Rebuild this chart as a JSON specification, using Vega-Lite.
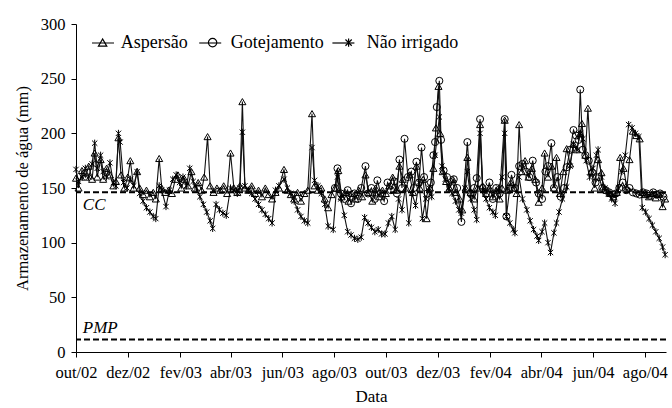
{
  "$schema": "https://vega.github.io/schema/vega-lite/v6.json",
  "width": 590,
  "height": 328,
  "autosize": "none",
  "padding": {"left": 76, "top": 24, "right": 6, "bottom": 56},
  "background": "white",
  "config": {
    "view": {"stroke": null},
    "font": "Liberation Serif",
    "axis": {
      "grid": false, "domainColor": "black", "tickColor": "black", "labelColor": "black", "titleColor": "black",
      "labelFont": "Liberation Serif", "titleFont": "Liberation Serif", "labelFontSize": 16.5, "titleFontSize": 17,
      "titleFontWeight": "normal", "tickSize": 5, "domainWidth": 1, "tickWidth": 1, "labelOverlap": false, "labelFlush": false
    },
    "legend": {
      "labelFont": "Liberation Serif", "labelFontSize": 18, "labelColor": "black", "padding": 0,
      "symbolStrokeColor": "black", "symbolStrokeWidth": 1.2, "symbolFillColor": "transparent"
    }
  },
  "datasets": {
    "refs": [
      {"label": "CC", "v": 146},
      {"label": "PMP", "v": 11.5}
    ],
    "main": [
      {"d": "2002-10-01", "s": "Aspersão", "v": 159},
      {"d": "2002-10-04", "s": "Aspersão", "v": 150},
      {"d": "2002-10-08", "s": "Aspersão", "v": 166},
      {"d": "2002-10-12", "s": "Aspersão", "v": 160},
      {"d": "2002-10-16", "s": "Aspersão", "v": 170},
      {"d": "2002-10-20", "s": "Aspersão", "v": 158},
      {"d": "2002-10-23", "s": "Aspersão", "v": 182},
      {"d": "2002-10-26", "s": "Aspersão", "v": 160},
      {"d": "2002-10-30", "s": "Aspersão", "v": 176},
      {"d": "2002-11-02", "s": "Aspersão", "v": 158},
      {"d": "2002-11-06", "s": "Aspersão", "v": 168},
      {"d": "2002-11-10", "s": "Aspersão", "v": 162},
      {"d": "2002-11-14", "s": "Aspersão", "v": 152},
      {"d": "2002-11-17", "s": "Aspersão", "v": 156},
      {"d": "2002-11-20", "s": "Aspersão", "v": 196},
      {"d": "2002-11-23", "s": "Aspersão", "v": 162},
      {"d": "2002-11-27", "s": "Aspersão", "v": 150},
      {"d": "2002-12-01", "s": "Aspersão", "v": 160},
      {"d": "2002-12-04", "s": "Aspersão", "v": 175},
      {"d": "2002-12-08", "s": "Aspersão", "v": 150},
      {"d": "2002-12-12", "s": "Aspersão", "v": 165},
      {"d": "2002-12-15", "s": "Aspersão", "v": 150},
      {"d": "2002-12-19", "s": "Aspersão", "v": 144},
      {"d": "2002-12-23", "s": "Aspersão", "v": 148},
      {"d": "2002-12-27", "s": "Aspersão", "v": 142},
      {"d": "2002-12-31", "s": "Aspersão", "v": 146},
      {"d": "2003-01-03", "s": "Aspersão", "v": 140},
      {"d": "2003-01-07", "s": "Aspersão", "v": 177},
      {"d": "2003-01-10", "s": "Aspersão", "v": 150},
      {"d": "2003-01-14", "s": "Aspersão", "v": 146},
      {"d": "2003-01-18", "s": "Aspersão", "v": 148},
      {"d": "2003-01-22", "s": "Aspersão", "v": 145},
      {"d": "2003-01-26", "s": "Aspersão", "v": 158},
      {"d": "2003-01-29", "s": "Aspersão", "v": 162},
      {"d": "2003-02-02", "s": "Aspersão", "v": 150},
      {"d": "2003-02-06", "s": "Aspersão", "v": 158},
      {"d": "2003-02-10", "s": "Aspersão", "v": 152},
      {"d": "2003-02-14", "s": "Aspersão", "v": 165},
      {"d": "2003-02-18", "s": "Aspersão", "v": 150},
      {"d": "2003-02-22", "s": "Aspersão", "v": 155},
      {"d": "2003-02-26", "s": "Aspersão", "v": 148},
      {"d": "2003-03-01", "s": "Aspersão", "v": 160},
      {"d": "2003-03-05", "s": "Aspersão", "v": 197},
      {"d": "2003-03-08", "s": "Aspersão", "v": 152},
      {"d": "2003-03-12", "s": "Aspersão", "v": 146},
      {"d": "2003-03-16", "s": "Aspersão", "v": 150},
      {"d": "2003-03-20", "s": "Aspersão", "v": 148},
      {"d": "2003-03-24", "s": "Aspersão", "v": 152},
      {"d": "2003-03-28", "s": "Aspersão", "v": 145},
      {"d": "2003-04-01", "s": "Aspersão", "v": 182},
      {"d": "2003-04-05", "s": "Aspersão", "v": 150},
      {"d": "2003-04-09", "s": "Aspersão", "v": 146},
      {"d": "2003-04-12", "s": "Aspersão", "v": 152},
      {"d": "2003-04-15", "s": "Aspersão", "v": 229},
      {"d": "2003-04-18", "s": "Aspersão", "v": 150},
      {"d": "2003-04-22", "s": "Aspersão", "v": 148},
      {"d": "2003-04-26", "s": "Aspersão", "v": 152},
      {"d": "2003-04-30", "s": "Aspersão", "v": 145},
      {"d": "2003-05-04", "s": "Aspersão", "v": 148},
      {"d": "2003-05-08", "s": "Aspersão", "v": 142},
      {"d": "2003-05-12", "s": "Aspersão", "v": 150},
      {"d": "2003-05-16", "s": "Aspersão", "v": 144},
      {"d": "2003-05-20", "s": "Aspersão", "v": 140},
      {"d": "2003-05-24", "s": "Aspersão", "v": 146},
      {"d": "2003-05-28", "s": "Aspersão", "v": 150},
      {"d": "2003-06-03", "s": "Aspersão", "v": 167},
      {"d": "2003-06-07", "s": "Aspersão", "v": 148},
      {"d": "2003-06-11", "s": "Aspersão", "v": 144},
      {"d": "2003-06-15", "s": "Aspersão", "v": 140},
      {"d": "2003-06-19", "s": "Aspersão", "v": 146},
      {"d": "2003-06-23", "s": "Aspersão", "v": 138},
      {"d": "2003-06-27", "s": "Aspersão", "v": 145},
      {"d": "2003-07-01", "s": "Aspersão", "v": 148},
      {"d": "2003-07-06", "s": "Aspersão", "v": 218},
      {"d": "2003-07-09", "s": "Aspersão", "v": 152},
      {"d": "2003-07-13", "s": "Aspersão", "v": 148},
      {"d": "2003-07-17", "s": "Aspersão", "v": 150},
      {"d": "2003-07-21", "s": "Aspersão", "v": 140},
      {"d": "2003-07-25", "s": "Aspersão", "v": 132},
      {"d": "2003-07-29", "s": "Aspersão", "v": 144},
      {"d": "2003-08-02", "s": "Aspersão", "v": 150},
      {"d": "2003-08-06", "s": "Aspersão", "v": 166},
      {"d": "2003-08-10", "s": "Aspersão", "v": 142},
      {"d": "2003-08-14", "s": "Aspersão", "v": 146},
      {"d": "2003-08-18", "s": "Aspersão", "v": 138},
      {"d": "2003-08-22", "s": "Aspersão", "v": 145},
      {"d": "2003-08-26", "s": "Aspersão", "v": 140},
      {"d": "2003-08-30", "s": "Aspersão", "v": 148},
      {"d": "2003-09-03", "s": "Aspersão", "v": 142},
      {"d": "2003-09-07", "s": "Aspersão", "v": 162},
      {"d": "2003-09-11", "s": "Aspersão", "v": 146},
      {"d": "2003-09-15", "s": "Aspersão", "v": 138},
      {"d": "2003-09-19", "s": "Aspersão", "v": 150},
      {"d": "2003-09-23", "s": "Aspersão", "v": 142},
      {"d": "2003-09-27", "s": "Aspersão", "v": 148},
      {"d": "2003-10-01", "s": "Aspersão", "v": 145},
      {"d": "2003-10-05", "s": "Aspersão", "v": 152},
      {"d": "2003-10-09", "s": "Aspersão", "v": 160},
      {"d": "2003-10-13", "s": "Aspersão", "v": 148},
      {"d": "2003-10-17", "s": "Aspersão", "v": 170},
      {"d": "2003-10-21", "s": "Aspersão", "v": 158},
      {"d": "2003-10-25", "s": "Aspersão", "v": 150},
      {"d": "2003-10-29", "s": "Aspersão", "v": 162},
      {"d": "2003-11-02", "s": "Aspersão", "v": 146},
      {"d": "2003-11-06", "s": "Aspersão", "v": 170},
      {"d": "2003-11-10", "s": "Aspersão", "v": 150},
      {"d": "2003-11-14", "s": "Aspersão", "v": 158},
      {"d": "2003-11-18", "s": "Aspersão", "v": 122},
      {"d": "2003-11-22", "s": "Aspersão", "v": 150},
      {"d": "2003-11-26", "s": "Aspersão", "v": 168},
      {"d": "2003-11-29", "s": "Aspersão", "v": 205},
      {"d": "2003-12-02", "s": "Aspersão", "v": 243},
      {"d": "2003-12-04", "s": "Aspersão", "v": 200},
      {"d": "2003-12-07", "s": "Aspersão", "v": 165},
      {"d": "2003-12-11", "s": "Aspersão", "v": 156},
      {"d": "2003-12-15", "s": "Aspersão", "v": 150},
      {"d": "2003-12-19", "s": "Aspersão", "v": 158},
      {"d": "2003-12-23", "s": "Aspersão", "v": 146},
      {"d": "2003-12-27", "s": "Aspersão", "v": 140},
      {"d": "2003-12-30", "s": "Aspersão", "v": 130},
      {"d": "2004-01-03", "s": "Aspersão", "v": 150},
      {"d": "2004-01-05", "s": "Aspersão", "v": 178},
      {"d": "2004-01-09", "s": "Aspersão", "v": 146},
      {"d": "2004-01-13", "s": "Aspersão", "v": 140},
      {"d": "2004-01-17", "s": "Aspersão", "v": 150},
      {"d": "2004-01-20", "s": "Aspersão", "v": 208},
      {"d": "2004-01-23", "s": "Aspersão", "v": 152},
      {"d": "2004-01-27", "s": "Aspersão", "v": 145},
      {"d": "2004-01-31", "s": "Aspersão", "v": 150},
      {"d": "2004-02-04", "s": "Aspersão", "v": 142},
      {"d": "2004-02-08", "s": "Aspersão", "v": 148},
      {"d": "2004-02-12", "s": "Aspersão", "v": 140},
      {"d": "2004-02-15", "s": "Aspersão", "v": 150},
      {"d": "2004-02-18", "s": "Aspersão", "v": 212},
      {"d": "2004-02-21", "s": "Aspersão", "v": 148},
      {"d": "2004-02-25", "s": "Aspersão", "v": 155},
      {"d": "2004-02-29", "s": "Aspersão", "v": 150},
      {"d": "2004-03-03", "s": "Aspersão", "v": 145},
      {"d": "2004-03-06", "s": "Aspersão", "v": 208},
      {"d": "2004-03-09", "s": "Aspersão", "v": 165},
      {"d": "2004-03-13", "s": "Aspersão", "v": 175},
      {"d": "2004-03-17", "s": "Aspersão", "v": 160},
      {"d": "2004-03-21", "s": "Aspersão", "v": 168},
      {"d": "2004-03-25", "s": "Aspersão", "v": 158},
      {"d": "2004-03-29", "s": "Aspersão", "v": 137},
      {"d": "2004-04-02", "s": "Aspersão", "v": 150},
      {"d": "2004-04-05", "s": "Aspersão", "v": 182},
      {"d": "2004-04-09", "s": "Aspersão", "v": 160},
      {"d": "2004-04-13", "s": "Aspersão", "v": 170},
      {"d": "2004-04-16", "s": "Aspersão", "v": 150},
      {"d": "2004-04-19", "s": "Aspersão", "v": 178},
      {"d": "2004-04-23", "s": "Aspersão", "v": 145},
      {"d": "2004-04-27", "s": "Aspersão", "v": 165},
      {"d": "2004-05-01", "s": "Aspersão", "v": 186},
      {"d": "2004-05-05", "s": "Aspersão", "v": 172},
      {"d": "2004-05-09", "s": "Aspersão", "v": 190},
      {"d": "2004-05-13", "s": "Aspersão", "v": 185},
      {"d": "2004-05-17", "s": "Aspersão", "v": 200},
      {"d": "2004-05-19", "s": "Aspersão", "v": 209},
      {"d": "2004-05-23", "s": "Aspersão", "v": 180},
      {"d": "2004-05-26", "s": "Aspersão", "v": 223},
      {"d": "2004-05-30", "s": "Aspersão", "v": 165},
      {"d": "2004-06-03", "s": "Aspersão", "v": 150},
      {"d": "2004-06-07", "s": "Aspersão", "v": 176},
      {"d": "2004-06-11", "s": "Aspersão", "v": 164},
      {"d": "2004-06-13", "s": "Aspersão", "v": 151},
      {"d": "2004-06-17", "s": "Aspersão", "v": 148},
      {"d": "2004-06-21", "s": "Aspersão", "v": 145},
      {"d": "2004-06-25", "s": "Aspersão", "v": 142},
      {"d": "2004-06-29", "s": "Aspersão", "v": 146},
      {"d": "2004-07-03", "s": "Aspersão", "v": 178},
      {"d": "2004-07-07", "s": "Aspersão", "v": 168},
      {"d": "2004-07-11", "s": "Aspersão", "v": 150},
      {"d": "2004-07-14", "s": "Aspersão", "v": 176},
      {"d": "2004-07-18", "s": "Aspersão", "v": 202},
      {"d": "2004-07-22", "s": "Aspersão", "v": 198},
      {"d": "2004-07-26", "s": "Aspersão", "v": 195},
      {"d": "2004-07-29", "s": "Aspersão", "v": 146},
      {"d": "2004-08-02", "s": "Aspersão", "v": 144},
      {"d": "2004-08-06", "s": "Aspersão", "v": 142},
      {"d": "2004-08-10", "s": "Aspersão", "v": 145},
      {"d": "2004-08-14", "s": "Aspersão", "v": 141},
      {"d": "2004-08-18", "s": "Aspersão", "v": 144},
      {"d": "2004-08-22", "s": "Aspersão", "v": 133},
      {"d": "2004-08-25", "s": "Aspersão", "v": 140},

      {"d": "2003-08-02", "s": "Gotejamento", "v": 150},
      {"d": "2003-08-05", "s": "Gotejamento", "v": 168},
      {"d": "2003-08-09", "s": "Gotejamento", "v": 145},
      {"d": "2003-08-13", "s": "Gotejamento", "v": 140},
      {"d": "2003-08-17", "s": "Gotejamento", "v": 148},
      {"d": "2003-08-21", "s": "Gotejamento", "v": 136},
      {"d": "2003-08-25", "s": "Gotejamento", "v": 145},
      {"d": "2003-08-29", "s": "Gotejamento", "v": 140},
      {"d": "2003-09-02", "s": "Gotejamento", "v": 150},
      {"d": "2003-09-07", "s": "Gotejamento", "v": 170},
      {"d": "2003-09-10", "s": "Gotejamento", "v": 145},
      {"d": "2003-09-14", "s": "Gotejamento", "v": 150},
      {"d": "2003-09-18", "s": "Gotejamento", "v": 140},
      {"d": "2003-09-21", "s": "Gotejamento", "v": 157},
      {"d": "2003-09-25", "s": "Gotejamento", "v": 145},
      {"d": "2003-09-29", "s": "Gotejamento", "v": 138},
      {"d": "2003-10-03", "s": "Gotejamento", "v": 155},
      {"d": "2003-10-07", "s": "Gotejamento", "v": 148},
      {"d": "2003-10-11", "s": "Gotejamento", "v": 156},
      {"d": "2003-10-14", "s": "Gotejamento", "v": 145},
      {"d": "2003-10-17", "s": "Gotejamento", "v": 176},
      {"d": "2003-10-20", "s": "Gotejamento", "v": 150},
      {"d": "2003-10-23", "s": "Gotejamento", "v": 195},
      {"d": "2003-10-27", "s": "Gotejamento", "v": 160},
      {"d": "2003-10-31", "s": "Gotejamento", "v": 165},
      {"d": "2003-11-03", "s": "Gotejamento", "v": 150},
      {"d": "2003-11-06", "s": "Gotejamento", "v": 174},
      {"d": "2003-11-09", "s": "Gotejamento", "v": 155},
      {"d": "2003-11-12", "s": "Gotejamento", "v": 187},
      {"d": "2003-11-15", "s": "Gotejamento", "v": 160},
      {"d": "2003-11-19", "s": "Gotejamento", "v": 145},
      {"d": "2003-11-23", "s": "Gotejamento", "v": 155},
      {"d": "2003-11-26", "s": "Gotejamento", "v": 180},
      {"d": "2003-11-28", "s": "Gotejamento", "v": 192},
      {"d": "2003-11-30", "s": "Gotejamento", "v": 224},
      {"d": "2003-12-03", "s": "Gotejamento", "v": 248},
      {"d": "2003-12-05", "s": "Gotejamento", "v": 194},
      {"d": "2003-12-08", "s": "Gotejamento", "v": 166},
      {"d": "2003-12-12", "s": "Gotejamento", "v": 160},
      {"d": "2003-12-16", "s": "Gotejamento", "v": 151},
      {"d": "2003-12-20", "s": "Gotejamento", "v": 158},
      {"d": "2003-12-24", "s": "Gotejamento", "v": 150},
      {"d": "2003-12-29", "s": "Gotejamento", "v": 119},
      {"d": "2004-01-05", "s": "Gotejamento", "v": 192},
      {"d": "2004-01-09", "s": "Gotejamento", "v": 145},
      {"d": "2004-01-13", "s": "Gotejamento", "v": 150},
      {"d": "2004-01-16", "s": "Gotejamento", "v": 159},
      {"d": "2004-01-20", "s": "Gotejamento", "v": 213},
      {"d": "2004-01-23", "s": "Gotejamento", "v": 150},
      {"d": "2004-01-27", "s": "Gotejamento", "v": 145},
      {"d": "2004-01-31", "s": "Gotejamento", "v": 155},
      {"d": "2004-02-04", "s": "Gotejamento", "v": 140},
      {"d": "2004-02-08", "s": "Gotejamento", "v": 150},
      {"d": "2004-02-12", "s": "Gotejamento", "v": 145},
      {"d": "2004-02-18", "s": "Gotejamento", "v": 213},
      {"d": "2004-02-20", "s": "Gotejamento", "v": 124},
      {"d": "2004-02-24", "s": "Gotejamento", "v": 150},
      {"d": "2004-02-26", "s": "Gotejamento", "v": 162},
      {"d": "2004-03-01", "s": "Gotejamento", "v": 150},
      {"d": "2004-03-06", "s": "Gotejamento", "v": 170},
      {"d": "2004-03-10", "s": "Gotejamento", "v": 172},
      {"d": "2004-03-14", "s": "Gotejamento", "v": 165},
      {"d": "2004-03-18", "s": "Gotejamento", "v": 160},
      {"d": "2004-03-22", "s": "Gotejamento", "v": 175},
      {"d": "2004-03-26", "s": "Gotejamento", "v": 155},
      {"d": "2004-03-29", "s": "Gotejamento", "v": 145},
      {"d": "2004-04-02", "s": "Gotejamento", "v": 140},
      {"d": "2004-04-06", "s": "Gotejamento", "v": 165},
      {"d": "2004-04-09", "s": "Gotejamento", "v": 170},
      {"d": "2004-04-13", "s": "Gotejamento", "v": 191},
      {"d": "2004-04-16", "s": "Gotejamento", "v": 150},
      {"d": "2004-04-20", "s": "Gotejamento", "v": 160},
      {"d": "2004-04-24", "s": "Gotejamento", "v": 142},
      {"d": "2004-04-28", "s": "Gotejamento", "v": 150},
      {"d": "2004-05-01", "s": "Gotejamento", "v": 169},
      {"d": "2004-05-05", "s": "Gotejamento", "v": 185},
      {"d": "2004-05-09", "s": "Gotejamento", "v": 203},
      {"d": "2004-05-12", "s": "Gotejamento", "v": 198},
      {"d": "2004-05-15", "s": "Gotejamento", "v": 194},
      {"d": "2004-05-17", "s": "Gotejamento", "v": 240},
      {"d": "2004-05-20", "s": "Gotejamento", "v": 185},
      {"d": "2004-05-23", "s": "Gotejamento", "v": 180},
      {"d": "2004-05-27", "s": "Gotejamento", "v": 175},
      {"d": "2004-05-31", "s": "Gotejamento", "v": 164},
      {"d": "2004-06-04", "s": "Gotejamento", "v": 155},
      {"d": "2004-06-08", "s": "Gotejamento", "v": 160},
      {"d": "2004-06-12", "s": "Gotejamento", "v": 150},
      {"d": "2004-06-16", "s": "Gotejamento", "v": 148},
      {"d": "2004-06-20", "s": "Gotejamento", "v": 146},
      {"d": "2004-06-24", "s": "Gotejamento", "v": 144},
      {"d": "2004-06-28", "s": "Gotejamento", "v": 145},
      {"d": "2004-07-02", "s": "Gotejamento", "v": 150},
      {"d": "2004-07-06", "s": "Gotejamento", "v": 155},
      {"d": "2004-07-10", "s": "Gotejamento", "v": 148},
      {"d": "2004-07-14", "s": "Gotejamento", "v": 150},
      {"d": "2004-07-18", "s": "Gotejamento", "v": 146},
      {"d": "2004-07-22", "s": "Gotejamento", "v": 145},
      {"d": "2004-07-26", "s": "Gotejamento", "v": 144},
      {"d": "2004-07-30", "s": "Gotejamento", "v": 146},
      {"d": "2004-08-03", "s": "Gotejamento", "v": 145},
      {"d": "2004-08-07", "s": "Gotejamento", "v": 143},
      {"d": "2004-08-11", "s": "Gotejamento", "v": 146},
      {"d": "2004-08-15", "s": "Gotejamento", "v": 144},
      {"d": "2004-08-19", "s": "Gotejamento", "v": 145},
      {"d": "2004-08-23", "s": "Gotejamento", "v": 142},

      {"d": "2002-10-01", "s": "Não irrigado", "v": 167},
      {"d": "2002-10-04", "s": "Não irrigado", "v": 156},
      {"d": "2002-10-08", "s": "Não irrigado", "v": 160},
      {"d": "2002-10-12", "s": "Não irrigado", "v": 168},
      {"d": "2002-10-16", "s": "Não irrigado", "v": 160},
      {"d": "2002-10-20", "s": "Não irrigado", "v": 172},
      {"d": "2002-10-23", "s": "Não irrigado", "v": 191},
      {"d": "2002-10-26", "s": "Não irrigado", "v": 168},
      {"d": "2002-10-30", "s": "Não irrigado", "v": 180},
      {"d": "2002-11-02", "s": "Não irrigado", "v": 165},
      {"d": "2002-11-06", "s": "Não irrigado", "v": 160},
      {"d": "2002-11-10", "s": "Não irrigado", "v": 173},
      {"d": "2002-11-14", "s": "Não irrigado", "v": 155},
      {"d": "2002-11-17", "s": "Não irrigado", "v": 152},
      {"d": "2002-11-20", "s": "Não irrigado", "v": 200},
      {"d": "2002-11-22", "s": "Não irrigado", "v": 192},
      {"d": "2002-11-26", "s": "Não irrigado", "v": 155},
      {"d": "2002-11-30", "s": "Não irrigado", "v": 150},
      {"d": "2002-12-04", "s": "Não irrigado", "v": 158},
      {"d": "2002-12-08", "s": "Não irrigado", "v": 152},
      {"d": "2002-12-12", "s": "Não irrigado", "v": 165},
      {"d": "2002-12-15", "s": "Não irrigado", "v": 145},
      {"d": "2002-12-19", "s": "Não irrigado", "v": 138},
      {"d": "2002-12-23", "s": "Não irrigado", "v": 132},
      {"d": "2002-12-27", "s": "Não irrigado", "v": 128},
      {"d": "2002-12-31", "s": "Não irrigado", "v": 124},
      {"d": "2003-01-03", "s": "Não irrigado", "v": 122},
      {"d": "2003-01-07", "s": "Não irrigado", "v": 152},
      {"d": "2003-01-10", "s": "Não irrigado", "v": 148},
      {"d": "2003-01-15", "s": "Não irrigado", "v": 133},
      {"d": "2003-01-19", "s": "Não irrigado", "v": 148},
      {"d": "2003-01-23", "s": "Não irrigado", "v": 158},
      {"d": "2003-01-27", "s": "Não irrigado", "v": 162},
      {"d": "2003-01-31", "s": "Não irrigado", "v": 155},
      {"d": "2003-02-04", "s": "Não irrigado", "v": 160},
      {"d": "2003-02-08", "s": "Não irrigado", "v": 152},
      {"d": "2003-02-12", "s": "Não irrigado", "v": 168},
      {"d": "2003-02-16", "s": "Não irrigado", "v": 156},
      {"d": "2003-02-20", "s": "Não irrigado", "v": 150},
      {"d": "2003-02-24", "s": "Não irrigado", "v": 142},
      {"d": "2003-02-28", "s": "Não irrigado", "v": 135},
      {"d": "2003-03-04", "s": "Não irrigado", "v": 128},
      {"d": "2003-03-08", "s": "Não irrigado", "v": 120},
      {"d": "2003-03-11", "s": "Não irrigado", "v": 113},
      {"d": "2003-03-15", "s": "Não irrigado", "v": 135},
      {"d": "2003-03-19", "s": "Não irrigado", "v": 130},
      {"d": "2003-03-23", "s": "Não irrigado", "v": 127},
      {"d": "2003-03-27", "s": "Não irrigado", "v": 125},
      {"d": "2003-04-01", "s": "Não irrigado", "v": 150},
      {"d": "2003-04-05", "s": "Não irrigado", "v": 148},
      {"d": "2003-04-09", "s": "Não irrigado", "v": 145},
      {"d": "2003-04-12", "s": "Não irrigado", "v": 150},
      {"d": "2003-04-15", "s": "Não irrigado", "v": 201},
      {"d": "2003-04-18", "s": "Não irrigado", "v": 152},
      {"d": "2003-04-22", "s": "Não irrigado", "v": 148},
      {"d": "2003-04-26", "s": "Não irrigado", "v": 145},
      {"d": "2003-04-30", "s": "Não irrigado", "v": 140},
      {"d": "2003-05-04", "s": "Não irrigado", "v": 135},
      {"d": "2003-05-08", "s": "Não irrigado", "v": 130},
      {"d": "2003-05-12", "s": "Não irrigado", "v": 126},
      {"d": "2003-05-16", "s": "Não irrigado", "v": 122},
      {"d": "2003-05-20", "s": "Não irrigado", "v": 118},
      {"d": "2003-05-24", "s": "Não irrigado", "v": 148},
      {"d": "2003-05-28", "s": "Não irrigado", "v": 152},
      {"d": "2003-06-03", "s": "Não irrigado", "v": 158},
      {"d": "2003-06-07", "s": "Não irrigado", "v": 150},
      {"d": "2003-06-11", "s": "Não irrigado", "v": 145},
      {"d": "2003-06-15", "s": "Não irrigado", "v": 138},
      {"d": "2003-06-19", "s": "Não irrigado", "v": 130},
      {"d": "2003-06-23", "s": "Não irrigado", "v": 124},
      {"d": "2003-06-27", "s": "Não irrigado", "v": 120},
      {"d": "2003-07-01", "s": "Não irrigado", "v": 118},
      {"d": "2003-07-06", "s": "Não irrigado", "v": 187},
      {"d": "2003-07-09", "s": "Não irrigado", "v": 157},
      {"d": "2003-07-13", "s": "Não irrigado", "v": 152},
      {"d": "2003-07-17", "s": "Não irrigado", "v": 145},
      {"d": "2003-07-21", "s": "Não irrigado", "v": 135},
      {"d": "2003-07-25", "s": "Não irrigado", "v": 115},
      {"d": "2003-07-31", "s": "Não irrigado", "v": 112},
      {"d": "2003-08-05", "s": "Não irrigado", "v": 160},
      {"d": "2003-08-09", "s": "Não irrigado", "v": 140},
      {"d": "2003-08-13", "s": "Não irrigado", "v": 125},
      {"d": "2003-08-17", "s": "Não irrigado", "v": 110},
      {"d": "2003-08-21", "s": "Não irrigado", "v": 107},
      {"d": "2003-08-25", "s": "Não irrigado", "v": 104},
      {"d": "2003-08-29", "s": "Não irrigado", "v": 103},
      {"d": "2003-09-02", "s": "Não irrigado", "v": 105},
      {"d": "2003-09-06", "s": "Não irrigado", "v": 123},
      {"d": "2003-09-10", "s": "Não irrigado", "v": 118},
      {"d": "2003-09-14", "s": "Não irrigado", "v": 114},
      {"d": "2003-09-18", "s": "Não irrigado", "v": 110},
      {"d": "2003-09-22", "s": "Não irrigado", "v": 112},
      {"d": "2003-09-26", "s": "Não irrigado", "v": 108},
      {"d": "2003-09-30", "s": "Não irrigado", "v": 108},
      {"d": "2003-10-04", "s": "Não irrigado", "v": 118},
      {"d": "2003-10-08", "s": "Não irrigado", "v": 124},
      {"d": "2003-10-12", "s": "Não irrigado", "v": 112},
      {"d": "2003-10-16", "s": "Não irrigado", "v": 140},
      {"d": "2003-10-20", "s": "Não irrigado", "v": 130},
      {"d": "2003-10-24", "s": "Não irrigado", "v": 150},
      {"d": "2003-10-28", "s": "Não irrigado", "v": 118},
      {"d": "2003-11-01", "s": "Não irrigado", "v": 145},
      {"d": "2003-11-05", "s": "Não irrigado", "v": 134},
      {"d": "2003-11-09", "s": "Não irrigado", "v": 155},
      {"d": "2003-11-13", "s": "Não irrigado", "v": 122},
      {"d": "2003-11-17", "s": "Não irrigado", "v": 140},
      {"d": "2003-11-21", "s": "Não irrigado", "v": 150},
      {"d": "2003-11-24", "s": "Não irrigado", "v": 142},
      {"d": "2003-11-28", "s": "Não irrigado", "v": 180},
      {"d": "2003-12-03", "s": "Não irrigado", "v": 215},
      {"d": "2003-12-06", "s": "Não irrigado", "v": 170},
      {"d": "2003-12-10", "s": "Não irrigado", "v": 158},
      {"d": "2003-12-14", "s": "Não irrigado", "v": 150},
      {"d": "2003-12-18", "s": "Não irrigado", "v": 145},
      {"d": "2003-12-22", "s": "Não irrigado", "v": 138},
      {"d": "2003-12-26", "s": "Não irrigado", "v": 130},
      {"d": "2003-12-29", "s": "Não irrigado", "v": 127},
      {"d": "2004-01-02", "s": "Não irrigado", "v": 150},
      {"d": "2004-01-05", "s": "Não irrigado", "v": 165},
      {"d": "2004-01-09", "s": "Não irrigado", "v": 140},
      {"d": "2004-01-13", "s": "Não irrigado", "v": 130},
      {"d": "2004-01-16", "s": "Não irrigado", "v": 121},
      {"d": "2004-01-20", "s": "Não irrigado", "v": 200},
      {"d": "2004-01-23", "s": "Não irrigado", "v": 148},
      {"d": "2004-01-27", "s": "Não irrigado", "v": 140},
      {"d": "2004-01-31", "s": "Não irrigado", "v": 132},
      {"d": "2004-02-04", "s": "Não irrigado", "v": 128},
      {"d": "2004-02-07", "s": "Não irrigado", "v": 125},
      {"d": "2004-02-11", "s": "Não irrigado", "v": 150},
      {"d": "2004-02-15", "s": "Não irrigado", "v": 160},
      {"d": "2004-02-18", "s": "Não irrigado", "v": 200},
      {"d": "2004-02-20", "s": "Não irrigado", "v": 124},
      {"d": "2004-02-24", "s": "Não irrigado", "v": 118},
      {"d": "2004-02-28", "s": "Não irrigado", "v": 112},
      {"d": "2004-03-01", "s": "Não irrigado", "v": 109},
      {"d": "2004-03-06", "s": "Não irrigado", "v": 160},
      {"d": "2004-03-10", "s": "Não irrigado", "v": 140},
      {"d": "2004-03-15", "s": "Não irrigado", "v": 130},
      {"d": "2004-03-19", "s": "Não irrigado", "v": 120},
      {"d": "2004-03-23", "s": "Não irrigado", "v": 112},
      {"d": "2004-03-27", "s": "Não irrigado", "v": 106},
      {"d": "2004-03-29", "s": "Não irrigado", "v": 102},
      {"d": "2004-04-02", "s": "Não irrigado", "v": 110},
      {"d": "2004-04-05", "s": "Não irrigado", "v": 118},
      {"d": "2004-04-09", "s": "Não irrigado", "v": 100},
      {"d": "2004-04-12", "s": "Não irrigado", "v": 91},
      {"d": "2004-04-16", "s": "Não irrigado", "v": 109},
      {"d": "2004-04-19", "s": "Não irrigado", "v": 118},
      {"d": "2004-04-22", "s": "Não irrigado", "v": 128},
      {"d": "2004-04-26", "s": "Não irrigado", "v": 140},
      {"d": "2004-05-01", "s": "Não irrigado", "v": 151},
      {"d": "2004-05-05", "s": "Não irrigado", "v": 170},
      {"d": "2004-05-09", "s": "Não irrigado", "v": 190},
      {"d": "2004-05-13", "s": "Não irrigado", "v": 185},
      {"d": "2004-05-17", "s": "Não irrigado", "v": 200},
      {"d": "2004-05-20", "s": "Não irrigado", "v": 195},
      {"d": "2004-05-24", "s": "Não irrigado", "v": 175},
      {"d": "2004-05-28", "s": "Não irrigado", "v": 160},
      {"d": "2004-06-01", "s": "Não irrigado", "v": 168},
      {"d": "2004-06-05", "s": "Não irrigado", "v": 180},
      {"d": "2004-06-07", "s": "Não irrigado", "v": 185},
      {"d": "2004-06-11", "s": "Não irrigado", "v": 160},
      {"d": "2004-06-15", "s": "Não irrigado", "v": 150},
      {"d": "2004-06-19", "s": "Não irrigado", "v": 145},
      {"d": "2004-06-23", "s": "Não irrigado", "v": 140},
      {"d": "2004-06-27", "s": "Não irrigado", "v": 136},
      {"d": "2004-07-01", "s": "Não irrigado", "v": 150},
      {"d": "2004-07-05", "s": "Não irrigado", "v": 165},
      {"d": "2004-07-09", "s": "Não irrigado", "v": 180},
      {"d": "2004-07-13", "s": "Não irrigado", "v": 208},
      {"d": "2004-07-17", "s": "Não irrigado", "v": 205},
      {"d": "2004-07-21", "s": "Não irrigado", "v": 200},
      {"d": "2004-07-25", "s": "Não irrigado", "v": 197},
      {"d": "2004-07-29", "s": "Não irrigado", "v": 132},
      {"d": "2004-08-02", "s": "Não irrigado", "v": 128},
      {"d": "2004-08-06", "s": "Não irrigado", "v": 122},
      {"d": "2004-08-10", "s": "Não irrigado", "v": 116},
      {"d": "2004-08-14", "s": "Não irrigado", "v": 110},
      {"d": "2004-08-18", "s": "Não irrigado", "v": 104},
      {"d": "2004-08-22", "s": "Não irrigado", "v": 96},
      {"d": "2004-08-25", "s": "Não irrigado", "v": 89}
    ]
  },
  "layer": [
    {
      "data": {"name": "refs"},
      "mark": {"type": "rule", "color": "black", "strokeWidth": 2, "strokeDash": [6, 3]},
      "encoding": {
        "y": {"field": "v", "type": "quantitative", "scale": {"domain": [0, 300], "nice": false}}
      }
    },
    {
      "data": {"name": "refs"},
      "transform": [{"filter": "datum.label === 'CC'"}],
      "mark": {"type": "text", "align": "left", "baseline": "top", "dy": 5, "font": "Liberation Serif", "fontStyle": "italic", "fontSize": 17, "color": "black"},
      "encoding": {
        "x": {"datum": {"year": 2002, "month": "oct", "date": 9, "utc": true}, "type": "temporal",
              "scale": {"type": "utc", "domain": [{"year": 2002, "month": "oct", "date": 1, "utc": true}, {"year": 2004, "month": "aug", "date": 26, "utc": true}]}},
        "y": {"field": "v", "type": "quantitative", "scale": {"domain": [0, 300], "nice": false}},
        "text": {"field": "label"}
      }
    },
    {
      "data": {"name": "refs"},
      "transform": [{"filter": "datum.label === 'PMP'"}],
      "mark": {"type": "text", "align": "left", "baseline": "bottom", "dy": -2, "font": "Liberation Serif", "fontStyle": "italic", "fontSize": 17, "color": "black"},
      "encoding": {
        "x": {"datum": {"year": 2002, "month": "oct", "date": 9, "utc": true}, "type": "temporal",
              "scale": {"type": "utc", "domain": [{"year": 2002, "month": "oct", "date": 1, "utc": true}, {"year": 2004, "month": "aug", "date": 26, "utc": true}]}},
        "y": {"field": "v", "type": "quantitative", "scale": {"domain": [0, 300], "nice": false}},
        "text": {"field": "label"}
      }
    },
    {
      "data": {"name": "main"},
      "mark": {"type": "line", "color": "#111111"},
      "encoding": {
        "x": {"field": "d", "type": "temporal",
              "scale": {"type": "utc", "domain": [{"year": 2002, "month": "oct", "date": 1, "utc": true}, {"year": 2004, "month": "aug", "date": 26, "utc": true}]},
              "axis": {
                "title": "Data", "titlePadding": 8, "labelPadding": 7, "titleFontSize": 17,
                "values": [
                  {"year": 2002, "month": "oct", "date": 1, "utc": true},
                  {"year": 2002, "month": "dec", "date": 1, "utc": true},
                  {"year": 2003, "month": "feb", "date": 1, "utc": true},
                  {"year": 2003, "month": "apr", "date": 1, "utc": true},
                  {"year": 2003, "month": "jun", "date": 1, "utc": true},
                  {"year": 2003, "month": "aug", "date": 1, "utc": true},
                  {"year": 2003, "month": "oct", "date": 1, "utc": true},
                  {"year": 2003, "month": "dec", "date": 1, "utc": true},
                  {"year": 2004, "month": "feb", "date": 1, "utc": true},
                  {"year": 2004, "month": "apr", "date": 1, "utc": true},
                  {"year": 2004, "month": "jun", "date": 1, "utc": true},
                  {"year": 2004, "month": "aug", "date": 1, "utc": true}
                ],
                "labelExpr": "['jan','fev','mar','abr','mai','jun','jul','ago','set','out','nov','dez'][utcmonth(datum.value)] + '/' + utcFormat(datum.value, '%y')"
              }},
        "y": {"field": "v", "type": "quantitative", "scale": {"domain": [0, 300], "nice": false},
              "axis": {"title": "Armazenamento de água (mm)", "titleFontSize": 16.5, "values": [0, 50, 100, 150, 200, 250, 300], "labelPadding": 6, "titlePadding": 10}},
        "strokeDash": {
          "field": "s", "type": "nominal",
          "scale": {"range": [[1, 0], [1, 0], [1, 0]]},
          "legend": {
            "title": null, "orient": "none", "legendX": 15, "legendY": 7, "values": ["Aspersão"],
            "symbolType": "stroke", "symbolSize": 484, "labelExpr": "''", "symbolStrokeColor": "black", "symbolStrokeWidth": 1.2
          }
        },
        "strokeWidth": {
          "field": "s", "type": "nominal",
          "scale": {"domain": ["Gotejamento", "Aspersão", "Não irrigado"], "range": [1.1, 1.1, 1.1]},
          "legend": {
            "title": null, "orient": "none", "legendX": 122.2, "legendY": 7, "values": ["Gotejamento"],
            "symbolType": "stroke", "symbolSize": 484, "labelExpr": "''", "symbolStrokeColor": "black"
          }
        },
        "opacity": {
          "field": "s", "type": "nominal",
          "scale": {"domain": ["Não irrigado", "Gotejamento", "Aspersão"], "range": [1, 1, 1]},
          "legend": {
            "title": null, "orient": "none", "legendX": 255.4, "legendY": 7, "values": ["Não irrigado"],
            "symbolType": "stroke", "symbolSize": 484, "labelExpr": "''", "symbolStrokeColor": "black", "symbolStrokeWidth": 1.2
          }
        }
      }
    },
    {
      "data": {"name": "main"},
      "mark": {"type": "point", "filled": false, "color": "black", "strokeWidth": 1, "size": 50, "opacity": 1},
      "encoding": {
        "x": {"field": "d", "type": "temporal",
              "scale": {"type": "utc", "domain": [{"year": 2002, "month": "oct", "date": 1, "utc": true}, {"year": 2004, "month": "aug", "date": 26, "utc": true}]}},
        "y": {"field": "v", "type": "quantitative", "scale": {"domain": [0, 300], "nice": false}},
        "shape": {
          "field": "s", "type": "nominal",
          "scale": {"domain": ["Aspersão", "Gotejamento", "Não irrigado"],
                    "range": ["triangle-up", "circle", "M-0.75,-0.75L0.75,0.75M-0.75,0.75L0.75,-0.75M0,-1L0,1"]},
          "legend": {
            "title": null, "orient": "none", "legendX": 15, "legendY": 9.6, "direction": "horizontal",
            "symbolSize": 70, "columnPadding": 13, "labelOffset": 9.2, "symbolOffset": 2.6,
            "symbolFillColor": "white"
          }
        }
      }
    }
  ]
}
